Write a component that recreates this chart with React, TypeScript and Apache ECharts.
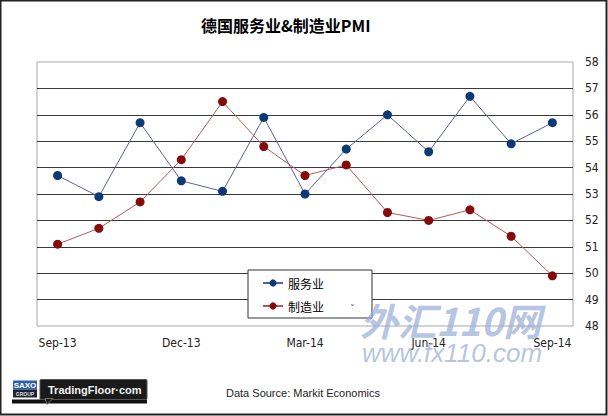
import React, { useEffect, useRef } from "react";
import * as echarts from "echarts";

const months = [
  "Sep-13", "Oct-13", "Nov-13", "Dec-13", "Jan-14", "Feb-14", "Mar-14",
  "Apr-14", "May-14", "Jun-14", "Jul-14", "Aug-14", "Sep-14",
];
const services = [53.7, 52.9, 55.7, 53.5, 53.1, 55.9, 53.0, 54.7, 56.0, 54.6, 56.7, 54.9, 55.7];
const manufacturing = [51.1, 51.7, 52.7, 54.3, 56.5, 54.8, 53.7, 54.1, 52.3, 52.0, 52.4, 51.4, 49.9];
const seriesNames = ["服务业", "制造业"];
const titleText = "德国服务业&制造业PMI";
const sourceText = "Data Source: Markit Economics";

export default function App() {
  const ref = useRef<HTMLDivElement>(null);
  useEffect(() => {
    document.body.style.margin = "0";
    const chart = echarts.init(ref.current!, null, { renderer: "svg" });
    const cjk = "'Noto Sans CJK SC', sans-serif";
    const axisFont = "'DejaVu Sans Condensed', 'DejaVu Sans', sans-serif";
    chart.setOption({
      animation: false,
      backgroundColor: "#ffffff",
      title: {
        text: titleText,
        left: 201,
        top: 17,
        padding: 0,
        textStyle: { fontFamily: cjk, fontSize: 16, fontWeight: "bold", color: "#000" },
      },
      legend: {
        orient: "vertical",
        left: 248,
        top: 270,
        padding: [6, 48, 5, 14],
        itemGap: 9,
        itemWidth: 20,
        itemHeight: 9,
        backgroundColor: "#fff",
        borderColor: "#333",
        borderWidth: 1,
        textStyle: { fontFamily: cjk, fontSize: 12, color: "#000", lineHeight: 14 },
        data: seriesNames,
      },
      grid: {
        left: 37,
        right: 35,
        top: 62,
        bottom: 90,
        show: true,
        borderColor: "#a8a8a8",
        borderWidth: 1,
        backgroundColor: "#fff",
      },
      xAxis: {
        type: "category",
        data: months,
        boundaryGap: true,
        axisLine: { show: false },
        axisTick: { show: false },
        axisLabel: {
          interval: 2,
          margin: 11,
          fontFamily: axisFont,
          fontSize: 12,
          color: "#222",
        },
        splitLine: { show: false },
      },
      yAxis: {
        type: "value",
        position: "right",
        min: 48,
        max: 58,
        interval: 1,
        axisLine: { show: false },
        axisTick: { show: false },
        axisLabel: { margin: 12, fontFamily: axisFont, fontSize: 12, color: "#222" },
        splitLine: {
          show: true,
          showMinLine: false,
          showMaxLine: false,
          lineStyle: { color: "#3a3a3a", width: 1 },
        },
      },
      series: [
        {
          name: seriesNames[0],
          type: "line",
          data: services,
          symbol: "circle",
          symbolSize: 9,
          lineStyle: { color: "#5a5da3", width: 1 },
          itemStyle: { color: "#0c3a76" },
        },
        {
          name: seriesNames[1],
          type: "line",
          data: manufacturing,
          symbol: "circle",
          symbolSize: 9,
          lineStyle: { color: "#b25a58", width: 1 },
          itemStyle: { color: "#870a0a" },
        },
      ],
      graphic: [
        {
          type: "rect",
          shape: { x: 0.5, y: 0.5, width: 606, height: 414 },
          style: { fill: "none", stroke: "#222", lineWidth: 2 },
          z: 100,
        },
        {
          type: "text",
          left: 350,
          top: 304,
          style: { text: "ˇ", fontSize: 10, fill: "#555", fontFamily: axisFont },
          z: 100,
        },
        {
          type: "text",
          left: 226,
          top: 387,
          style: {
            text: sourceText,
            fontFamily: "'Liberation Sans', sans-serif",
            fontSize: 11,
            fill: "#222",
          },
        },
        // watermark
        {
          type: "text",
          left: 360,
          top: 300,
          style: {
            text: "外汇110网",
            fontFamily: cjk,
            fontSize: 38,
            fontWeight: "bold",
            fontStyle: "italic",
            fill: "rgba(150,172,214,0.7)",
          },
          z: 90,
        },
        {
          type: "text",
          left: 362,
          top: 340,
          style: {
            text: "www.fx110.com",
            fontFamily: "'Liberation Sans', sans-serif",
            fontSize: 26,
            fontStyle: "italic",
            fill: "rgba(150,172,214,0.7)",
          },
          z: 90,
        },
        // logo
        {
          type: "group",
          left: 12,
          top: 379,
          children: [
            { type: "rect", shape: { x: 0, y: 20, width: 135, height: 4 }, style: { fill: "#111" } },
            { type: "rect", shape: { x: 1, y: 1, width: 24, height: 9 }, style: { fill: "#2f5ea8" } },
            { type: "rect", shape: { x: 1, y: 10, width: 24, height: 8 }, style: { fill: "#1d2333" } },
            {
              type: "text",
              style: { text: "SAXO", x: 13, y: 5.5, align: "center", verticalAlign: "middle", fontSize: 8, fontWeight: "bold", fill: "#fff", fontFamily: "'Liberation Sans', sans-serif" },
            },
            {
              type: "text",
              style: { text: "GROUP", x: 13, y: 14, align: "center", verticalAlign: "middle", fontSize: 5, fontWeight: "bold", fill: "#ddd", fontFamily: "'Liberation Sans', sans-serif" },
            },
            { type: "rect", shape: { x: 28, y: 0, width: 107, height: 20, r: 1 }, style: { fill: "#1a1a1a", stroke: "#555", lineWidth: 1 } },
            { type: "polygon", shape: { points: [[33, 19], [41, 19], [35, 25]] }, style: { fill: "#1a1a1a", stroke: "#888", lineWidth: 0.8 } },
            {
              type: "text",
              style: { text: "TradingFloor·com", x: 36, y: 10, verticalAlign: "middle", fontSize: 11, fontWeight: "bold", fill: "#f2f2f2", fontFamily: "'Liberation Sans', sans-serif" },
            },
          ],
        },
      ],
    });
    return () => chart.dispose();
  }, []);
  return <div ref={ref} style={{ width: 608, height: 416 }} />;
}
